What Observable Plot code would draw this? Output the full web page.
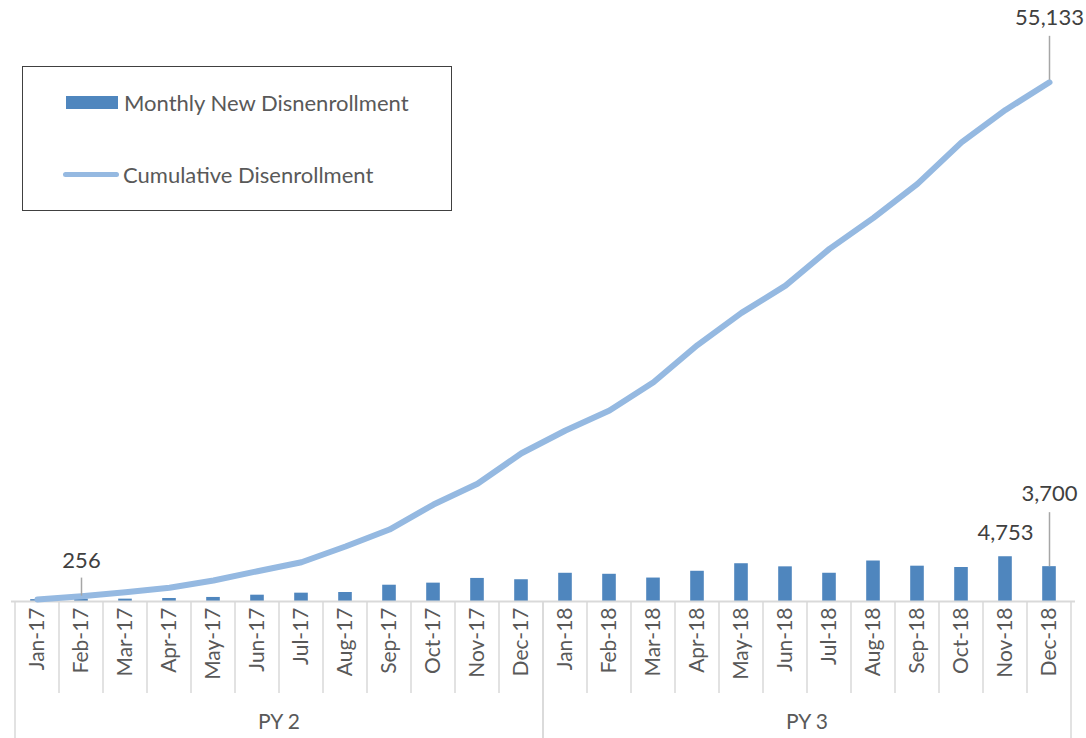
<!DOCTYPE html>
<html>
<head>
<meta charset="utf-8">
<script src="https://cdn.jsdelivr.net/npm/d3@7"></script>
<script src="https://cdn.jsdelivr.net/npm/@observablehq/plot@0.6"></script>
<style>
  html, body { margin: 0; padding: 0; background: #fff; }
  body { font-family: Lato, "Open Sans", sans-serif; }
  #wrap { position: relative; width: 1086px; height: 738px; overflow: hidden; }
  #legend {
    position: absolute; left: 22px; top: 66px; width: 430px; height: 145px;
    box-sizing: border-box; border: 1.5px solid #404040; background: #fff;
    font-size: 22px; color: #595959;
  }
  .item { position: absolute; left: 0; height: 24px; display: flex; align-items: center; white-space: nowrap; }
  .sw-bar { width: 52px; height: 13px; background: #4F86BE; margin-left: 43px; margin-right: 6px; }
  .sw-line { width: 56px; height: 5px; border-radius: 3px; background: #95B9E1; margin-left: 40px; margin-right: 4px; }
</style>
</head>
<body>
<div id="wrap">
  <div id="chart"></div>
  <div id="legend">
    <div class="item" style="top:23px"><div class="sw-bar"></div><span id="lg1"></span></div>
    <div class="item" style="top:95px"><div class="sw-line"></div><span id="lg2"></span></div>
  </div>
</div>
<script>
// ---- data ----
const months = ["Jan-17","Feb-17","Mar-17","Apr-17","May-17","Jun-17","Jul-17","Aug-17","Sep-17","Oct-17","Nov-17","Dec-17",
                "Jan-18","Feb-18","Mar-18","Apr-18","May-18","Jun-18","Jul-18","Aug-18","Sep-18","Oct-18","Nov-18","Dec-18"];
const monthlyNew = [200, 256, 250, 320, 430, 670, 885, 955, 1730, 1950, 2450, 2310,
                    2997, 2890, 2490, 3210, 4010, 3680, 3000, 4300, 3750, 3610, 4753, 3700];
const cumulative = [212, 563, 987, 1455, 2230, 3217, 4172, 5839, 7644, 10298, 12496, 15745,
                    18155, 20278, 23283, 27232, 30651, 33549, 37446, 40737, 44346, 48763, 52203, 55133];
const seriesNames = ["Monthly New Disnenrollment", "Cumulative Disenrollment"];
const periodLabels = ["PY 2", "PY 3"];
const periodFirst = ["Jan-17", "Jan-18"];
const periodLast = ["Dec-17", "Dec-18"];
const barLabelMonths = ["Feb-17", "Nov-18", "Dec-18"];
const lineLabelMonths = ["Dec-18"];

// ---- layout ----
const W = 1086, H = 738, mTop = 36, mBottom = 137, mLeft = 11, mRight = 11;
const yMax = 60000;
const u = px => px * yMax / (H - mTop - mBottom); // pixels -> data units
const fmt = d3.format(",");

const rows = months.map((m, i) => ({month: m, monthly: monthlyNew[i], cum: cumulative[i]}));
const byMonth = new Map(rows.map(r => [r.month, r]));

// label placement per labeled point (offsets above the value, in px)
const barLabelStyle = {"Feb-17": {up: 38, lead: [3, 21]}, "Nov-18": {up: 24, lead: null}, "Dec-18": {up: 73, lead: [0, 54]}};
const lineLabelStyle = {"Dec-18": {up: 64, lead: [2, 46]}};

const barLabels = barLabelMonths.map(m => ({month: m, v: byMonth.get(m).monthly, ...barLabelStyle[m]}));
const lineLabels = lineLabelMonths.map(m => ({month: m, v: byMonth.get(m).cum, ...lineLabelStyle[m]}));
const allLabels = [...barLabels, ...lineLabels];
const leaders = allLabels.filter(d => d.lead);

function periodAxis(index, scales) {
  const x = scales.x, y = scales.y;
  const bw = typeof x.bandwidth === "function" ? x.bandwidth() : x.bandwidth;
  const y0 = y(0);
  const g = d3.create("svg:g");
  const firsts = new Set(periodFirst);
  months.forEach(m => {
    const xl = x(m);
    if (!firsts.has(m)) {
      g.append("line").attr("x1", xl).attr("x2", xl).attr("y1", y0).attr("y2", y0 + 92)
        .attr("stroke", "#d9d9d9").attr("stroke-width", 1.5);
    }
  });
  periodLabels.forEach((lab, i) => {
    const x0 = x(periodFirst[i]);
    const x1 = x(periodLast[i]) + bw;
    [x0, x1].forEach(xx => g.append("line").attr("x1", xx).attr("x2", xx).attr("y1", y0).attr("y2", H)
      .attr("stroke", "#d9d9d9").attr("stroke-width", 1.5));
    g.append("text").attr("x", (x0 + x1) / 2).attr("y", y0 + 128)
      .attr("text-anchor", "middle").attr("fill", "#595959").attr("font-size", 21).text(lab);
  });
  return g.node();
}

const chart = Plot.plot({
  width: W, height: H,
  marginTop: mTop, marginBottom: mBottom, marginLeft: mLeft, marginRight: mRight,
  style: {fontFamily: "Lato, 'Open Sans', sans-serif", fontSize: "21px", color: "#595959", background: "#fff", overflow: "visible"},
  x: {type: "band", domain: months, padding: 0, label: null, tickSize: 0, tickPadding: 6, tickRotate: -90},
  y: {domain: [0, yMax], axis: null},
  marks: [
    Plot.barY(rows, {x: "month", y: "monthly", fill: "#4F86BE", insetLeft: 15.2, insetRight: 15.2}),
    Plot.ruleY([0], {stroke: "#d9d9d9", strokeWidth: 2}),
    periodAxis,
    Plot.line(rows, {x: "month", y: "cum", stroke: "#95B9E1", strokeWidth: 6, strokeLinecap: "round", strokeLinejoin: "round"}),
    Plot.ruleX(leaders, {x: "month", y1: d => d.v + u(d.lead[0]), y2: d => d.v + u(d.lead[1]), stroke: "#a6a6a6", strokeWidth: 1.5}),
    Plot.text(allLabels, {x: "month", y: d => d.v + u(d.up), text: d => fmt(d.v), fill: "#404040", fontSize: 22}),
  ]
});
document.getElementById("chart").appendChild(chart);
document.getElementById("lg1").textContent = seriesNames[0];
document.getElementById("lg2").textContent = seriesNames[1];
</script>
</body>
</html>
